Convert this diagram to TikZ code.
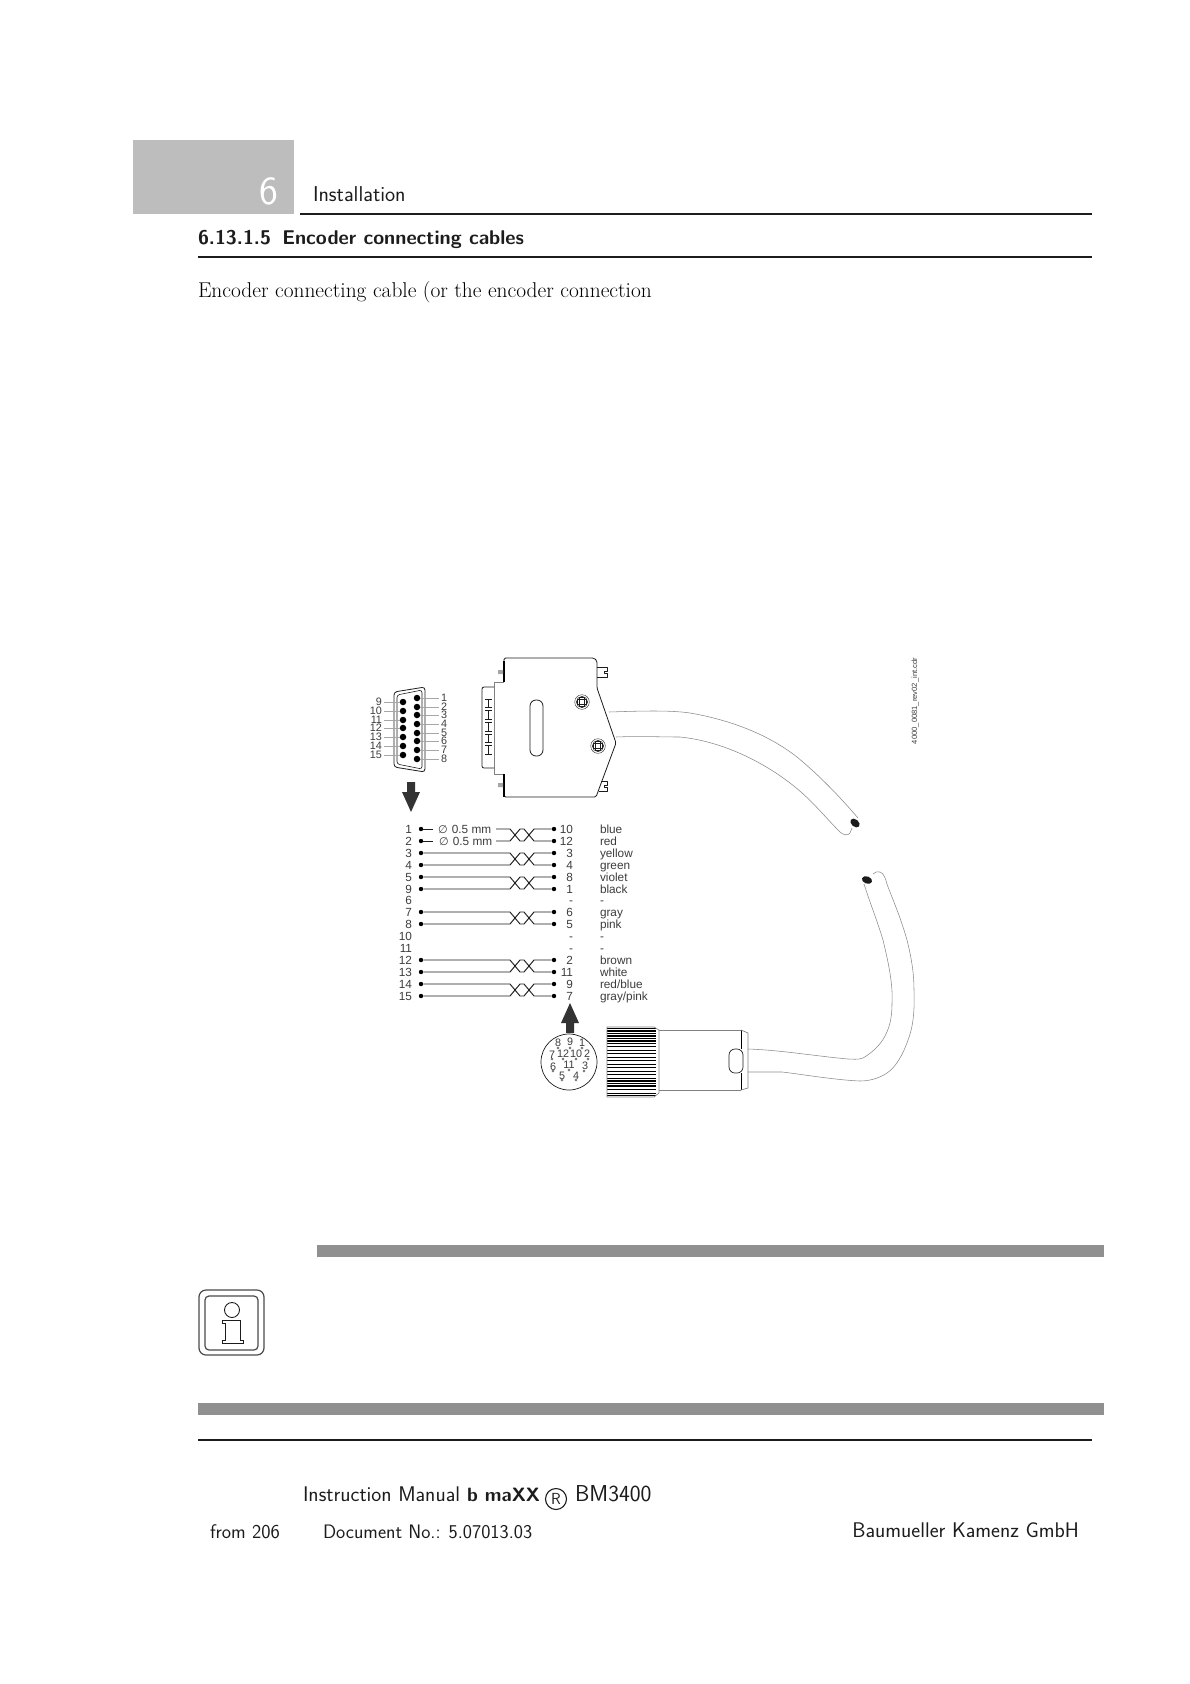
\documentclass[tikz,border=0pt]{standalone}
\usepackage{fontspec}
\newfontfamily\arialf{Liberation Sans}
\newfontfamily\dejaf{DejaVu Sans}
\usetikzlibrary{calc}
\definecolor{hdrgray}{HTML}{BDBDBD}
\definecolor{bargray}{HTML}{909090}
\definecolor{ink}{HTML}{1C1C1C}
\definecolor{lbl}{HTML}{3C3C3C}
\definecolor{cablegray}{HTML}{8A8A8A}
\tikzset{
  txt/.style={anchor=base west,inner sep=0pt,outer sep=0pt,text=ink},
  sanstxt/.style={txt,font=\sffamily\fontsize{#1}{#1}\selectfont},
  romantxt/.style={txt,font=\rmfamily\fontsize{#1}{#1}\selectfont},
  lab/.style={inner sep=0pt,outer sep=0pt,text=lbl,font=\arialf\fontsize{11.8}{12}\selectfont},
  numR/.style={lab,anchor=base east},
  colr/.style={lab,anchor=base west},
  sublab/.style={inner sep=0pt,outer sep=2pt,text=lbl,font=\arialf\fontsize{10.8}{11}\selectfont},
  facelab/.style={inner sep=0pt,outer sep=0pt,text=lbl,font=\arialf\fontsize{10.8}{11}\selectfont},
  dot/.style={circle,fill=black,inner sep=0pt,minimum size=4.4pt},
  pin/.style={circle,fill=black,inner sep=0pt,minimum size=6.5pt},
  fpin/.style={circle,draw=lbl,fill=white,line width=0.4pt,inner sep=0pt,minimum size=2.2pt},
  wire/.style={draw=ink,line width=0.95pt,line join=round},
  outline/.style={draw=ink,line width=0.8pt,line join=round},
  greyline/.style={draw=gray,line width=0.9pt,line join=round},
  thinline/.style={draw=cablegray,line width=0.55pt},
  leader/.style={draw=gray!70,line width=0.55pt},
  bigarrow/.style={fill=ink!90!white,draw=none},
  rulel/.style={draw=ink,line width=1.8pt},
}
\newcommand{\twistpair}[4]{%
  \draw[wire] (l#1) -- (510,#3) -- (515,{(#3+#4)/2}) -- (520,#4) -- (524,#4) -- (529,{(#3+#4)/2}) -- (534,#3) -- (r#1);
  \draw[wire] (l#2) -- (510,#4) -- (515,{(#3+#4)/2}) -- (520,#3) -- (524,#3) -- (529,{(#3+#4)/2}) -- (534,#4) -- (r#2);
}
\begin{document}
\begin{tikzpicture}[x=1pt,y=-1pt]
\useasboundingbox (0,0) rectangle (1190,1684);
% page header
\fill[hdrgray] (133,140) rectangle (294,214);
\node[sanstxt=40,text=white] (chap) at (259,204) {6};
\node[sanstxt=21.5] (hdr) at (313,201) {Installation};
\draw[rulel] (300,214) -- (1092,214);
\node[txt,font=\sffamily\bfseries\fontsize{19.9}{20}\selectfont] (sec) at (198,244) {6.13.1.5\hspace{4pt} Encoder connecting cables};
\draw[rulel] (198,257) -- (1092,257);
\node[romantxt=21.4,text=black] (body) at (198,297) {Encoder connecting cable (or the encoder connection};
% drawing id
\node[inner sep=0pt,rotate=90,text=lbl,font=\arialf\fontsize{7.6}{8}\selectfont] (drw) at (915,701) {4000\_0081\_rev02\_int.cdr};
% sub-D face
\draw[outline,rounded corners=3pt] (394,692) -- (425,687) -- (425,772) -- (394,767) -- cycle;
\draw[draw=ink,line width=0.6pt,rounded corners=2.5pt] (397,695) -- (422,690) -- (422,769) -- (397,764) -- cycle;
\foreach \n/\yy in {1/698,2/707,3/715,4/724,5/733,6/741,7/750,8/759}{
  \node[pin] (pr\n) at (417,\yy) {};
  \node[sublab,anchor=west] (tr\n) at (439,\yy) {\n};
  \draw[leader] (pr\n) -- (tr\n.west);
}
\foreach \n/\yy in {9/702,10/711,11/720,12/728,13/737,14/746,15/755}{
  \node[pin] (pl\n) at (403,\yy) {};
  \node[sublab,anchor=east] (tl\n) at (384,\yy) {\n};
  \draw[leader] (pl\n) -- (tl\n.east);
}
% arrow down
\fill[bigarrow] (407,782) -- (415,782) -- (415,792) -- (420,792) -- (411,812) -- (402,792) -- (407,792) -- cycle;
% connector body
\draw[outline,rounded corners=1.5pt] (504,682) -- (504,658) -- (594,658) -- (597,661) -- (597,688) -- (616,743) -- (596,797) -- (504,797) -- (504,774);
\draw[greyline] (504,682) -- (494,682) -- (494,774) -- (504,774);
\draw[outline,rounded corners=2pt] (494,687) -- (482,687) -- (482,768) -- (494,768);
\draw[line width=1.4pt,draw=black] (504,661) -- (504,682) (504,774) -- (504,797);
\fill[gray!70] (498,670) rectangle (503,674) (498,783) rectangle (503,787);
\foreach \a in {699,710.7,722.4,734.1,745.8}{
  \draw[outline] (485,\a) -- (492,\a) (485,\a+8.7) -- (492,\a+8.7) (488.5,\a) -- (488.5,\a+8.7);
}
\draw[outline,rounded corners=6pt] (530,700) rectangle (543,756);
% right-hand tabs
\draw[outline] (597,667) -- (607,667) -- (607,671) -- (604,671) -- (604,673) -- (607,673) -- (607,677) -- (597,677);
\draw[outline] (601,781) -- (607,781) -- (607,785) -- (604,785) -- (604,787) -- (607,787) -- (607,791) -- (599,791);
% screws
\foreach \sx/\sy in {582/702,598/746}{
  \draw[draw=ink,line width=0.4pt] (\sx,\sy) circle (7.3);
  \draw[draw=ink,line width=0.6pt] (\sx,\sy) circle (5.6);
  \draw[draw=ink,line width=0.7pt] (\sx-4.5,\sy-2.5) rectangle (\sx+4.5,\sy+2.5) (\sx-2.5,\sy-4.5) rectangle (\sx+2.5,\sy+4.5);
}
% upper cable
\draw[thinline] (609,712) .. controls (640,711) and (670,710) .. (690,713) .. controls (725,719) and (765,732) .. (797,757) .. controls (820,776) and (840,797) .. (858,818);
\draw[thinline] (616,737) .. controls (640,736) and (660,737) .. (680,737) .. controls (720,741) and (760,760) .. (790,783) .. controls (810,798) and (825,817) .. (840,832) .. controls (843,835) and (848,836) .. (850,833) -- (852,828);
\fill[ink,rotate around={-40:(855,823)}] (855,823) ellipse (5.3 and 3.6);
% lower cable
\fill[ink,rotate around={-20:(867,880)}] (867,880) ellipse (5.3 and 3.6);
\draw[thinline] (864,884) .. controls (870,903) and (877,920) .. (883,940) .. controls (889,965) and (893,985) .. (892,1003) .. controls (892,1020) and (889,1028) .. (885,1036) .. controls (880,1046) and (870,1054) .. (863,1058) .. controls (858,1060) and (852,1059) .. (848,1059) .. controls (815,1056) and (780,1050) .. (748,1049);
\draw[thinline] (873,874) .. controls (875,872) and (878,871) .. (880,872) .. controls (884,873) and (886,880) .. (887,884) .. controls (890,893) and (900,915) .. (907,940) .. controls (912,960) and (914,975) .. (914,990) .. controls (915,1015) and (912,1030) .. (908,1040) .. controls (903,1055) and (895,1068) .. (887,1073) .. controls (878,1079) and (868,1081) .. (860,1081) .. controls (835,1080) and (800,1074) .. (782,1072) -- (748,1072);
% round plug
\foreach \yy in {1028.5,1031,1033.5,1036,1038.5,1041,1043.5,1078.5,1081,1083.5,1086,1093.5,1095.8}{
  \draw[draw=black,line width=1.3pt] (607,\yy) -- (656,\yy);
}
\foreach \yy in {1046.5,1050,1053.5,1057,1060.5,1064,1067.5,1071,1074.5,1089.5}{
  \draw[draw=black,line width=0.9pt] (607,\yy) -- (656,\yy);
}
\draw[draw=gray,line width=0.6pt] (607,1027) -- (654,1027) -- (659,1030) -- (659,1093) -- (654,1097) -- (607,1097) -- cycle;
\draw[draw=gray,line width=0.7pt] (659,1030) -- (741,1030) (659,1090) -- (741,1090);
\draw[draw=black,line width=1pt] (741,1030) -- (741,1049) (741,1073) -- (741,1090);
\draw[draw=gray,line width=0.7pt] (741,1030) -- (748,1033) -- (748,1088) -- (741,1090);
\draw[draw=ink,line width=0.7pt,rounded corners=6pt] (729,1049) rectangle (743,1073);
% plug face
\node[circle,draw=ink,line width=0.7pt,inner sep=0pt,minimum size=56pt] (face) at (569,1062) {};
\foreach \t/\lx/\ly/\px/\py in {8/558/1043/558/1048,9/570/1042/570/1048,1/582/1043/582/1048,7/552/1055/552/1059,12/563/1054/563/1059,10/576/1054/576/1059,2/587/1054/588/1059,6/553/1067/553/1071,11/569/1065/569/1070,3/585/1066/584/1071,5/562/1076/562/1080,4/576/1076/576/1080}{
  \node[facelab] (fl\t) at (\lx,\ly) {\t};
  \node[fpin] (fp\t) at (\px,\py) {};
}
% arrow up
\fill[bigarrow] (570,1003) -- (579,1023) -- (574,1023) -- (574,1033) -- (566,1033) -- (566,1023) -- (561,1023) -- cycle;
% wiring table
\foreach \i/\yy/\ln/\rn/\cn in {1/829/1/10/{blue},2/841/2/12/{red},3/853/3/3/{yellow},4/865/4/4/{green},5/877/5/8/{violet},6/889/9/1/{black},7/900/6/-/{-},8/912/7/6/{gray},9/924/8/5/{pink},10/936/10/-/{-},11/948/11/-/{-},12/960/12/2/{brown},13/972/13/11/{white},14/984/14/9/{red/blue},15/996/15/7/{gray/pink}}{
  \node[numR] (ln\i) at (412,\yy+4.2) {\ln};
  \node[numR] (rn\i) at (573,\yy+4.2) {\rn};
  \node[colr] (cn\i) at (600,\yy+4.2) {\cn};
}
\foreach \i/\yy in {1/829,2/841,3/853,4/865,5/877,6/889,8/912,9/924,12/960,13/972,14/984,15/996}{
  \node[dot] (l\i) at (421,\yy) {};
  \node[dot] (r\i) at (554,\yy) {};
}
% first pair: broken by the size labels
\node[lab,anchor=base west] (d1) at (438,833.2) {{\dejaf\fontsize{11}{12}\selectfont\char"2205}\hspace{1pt} 0.5 mm};
\node[lab,anchor=base west] (d2) at (439,845.2) {{\dejaf\fontsize{11}{12}\selectfont\char"2205}\hspace{1pt} 0.5 mm};
\coordinate (la) at (433,829); \coordinate (lb) at (433,841);
\draw[wire] (l1) -- (la) (l2) -- (lb);
\draw[wire] (496,829) -- (510,829) -- (515,835) -- (520,841) -- (524,841) -- (529,835) -- (534,829) -- (r1);
\draw[wire] (496,841) -- (510,841) -- (515,835) -- (520,829) -- (524,829) -- (529,835) -- (534,841) -- (r2);
\twistpair{3}{4}{853}{865}
\twistpair{5}{6}{877}{889}
\twistpair{8}{9}{912}{924}
\twistpair{12}{13}{960}{972}
\twistpair{14}{15}{984}{996}
% note bars and icon
\fill[bargray] (317,1245) rectangle (1104,1257);
\fill[bargray] (198,1403) rectangle (1104,1415);
\draw[draw=ink!80!white,line width=1.2pt,rounded corners=7pt] (199,1290) rectangle (264,1355);
\draw[draw=ink!80!white,line width=1.2pt,rounded corners=4pt] (205,1296) rectangle (258,1350);
\draw[draw=ink,line width=0.9pt] (232,1310) circle (7.5);
\draw[draw=ink,line width=0.9pt] (222,1320) -- (240,1320) -- (240,1340) -- (243,1340) -- (243,1343) -- (222,1343) -- (222,1340) -- (225,1340) -- (225,1323) -- (222,1323) -- cycle;
% footer
\draw[rulel] (198,1440) -- (1092,1440);
\node[sanstxt=21.2] (man) at (303,1501) {Instruction Manual};
\node[txt,font=\sffamily\bfseries\fontsize{19.3}{20}\selectfont] (bmax) at (467,1501) {b maXX};
\node[circle,draw=ink,line width=1.1pt,inner sep=0pt,minimum size=21pt,font=\sffamily\fontsize{16}{16}\selectfont,text=ink] (reg) at (556,1499) {R};
\node[txt,font=\sffamily\fontsize{23}{23}\selectfont] (bm) at (575,1501) {BM3400};
\node[sanstxt=19.7] (page) at (210,1538) {from 206};
\node[sanstxt=19.5] (doc) at (323,1538) {Document No.: 5.07013.03};
\node[sanstxt=21.2,anchor=base east] (firm) at (1079,1537) {Baumueller Kamenz GmbH};
\end{tikzpicture}
\end{document}
